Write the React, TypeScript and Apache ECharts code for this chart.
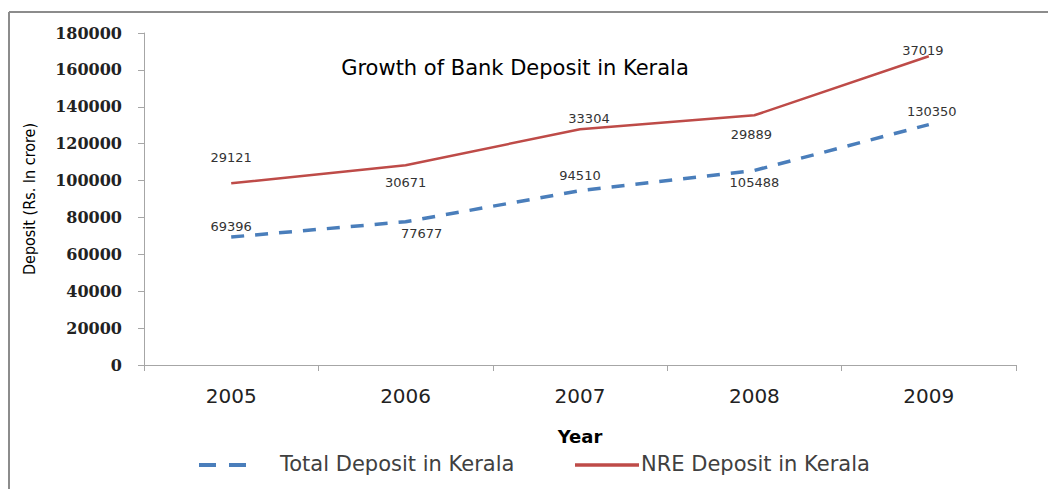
import React, { useEffect, useRef } from "react";
import * as echarts from "echarts";

const years = ["2005", "2006", "2007", "2008", "2009"];
const totalDeposit = [69396, 77677, 94510, 105488, 130350];
const nreDeposit = [29121, 30671, 33304, 29889, 37019];
const seriesNames = ["Total Deposit in Kerala", "NRE Deposit in Kerala"];

const yMin = 0;
const yMax = 180000;
const yStep = 20000;

// label placement (layout only)
const totalLabelPos = ["top", "bottom", "top", "bottom", "top"];
const totalLabelOffset = [[0, 2], [16, -1], [0, -3], [0, 0], [3, -1]];
const nreLabelPos = ["top", "bottom", "top", "bottom", "top"];
const nreLabelOffset = [[0, -13], [0, 5], [9, 2], [-3, 7], [-6, 7]];

const BLUE = "#4A7EBB";
const RED = "#BE4B48";

export default function App() {
  const ref = useRef<HTMLDivElement>(null);
  useEffect(() => {
    if (!ref.current) return;
    const chart = echarts.init(ref.current, null, { renderer: "svg" });
    const labelFont = { fontFamily: "DejaVu Sans", fontSize: 13, color: "#333" };
    const legendFont = { fontFamily: "DejaVu Sans", fontSize: 21, fill: "#404040" };
    const option = {
      animation: false,
      backgroundColor: "#fff",
      title: {
        text: "Growth of Bank Deposit in Kerala",
        left: 510,
        top: 52,
        textAlign: "center",
        textStyle: { fontFamily: "DejaVu Sans", fontSize: 21, fontWeight: "normal", color: "#000" },
      },
      grid: { left: 144, right: 32, top: 33, bottom: 124, containLabel: false },
      xAxis: {
        type: "category",
        data: years,
        boundaryGap: true,
        name: "Year",
        nameLocation: "middle",
        nameGap: 62,
        nameTextStyle: { fontFamily: "DejaVu Sans", fontSize: 18, fontWeight: "bold", color: "#000" },
        axisLine: { lineStyle: { color: "#A6A6A6", width: 1 } },
        axisTick: { show: true, length: 6, lineStyle: { color: "#A6A6A6" } },
        axisLabel: { margin: 21, fontFamily: "DejaVu Sans", fontSize: 20, color: "#222" },
        splitLine: { show: false },
      },
      yAxis: {
        type: "value",
        min: yMin,
        max: yMax,
        interval: yStep,
        name: "Deposit (Rs. In crore)",
        nameLocation: "middle",
        nameGap: 107,
        nameTextStyle: { fontFamily: "Liberation Sans Narrow, DejaVu Sans Condensed, sans-serif", fontSize: 16, color: "#000" },
        axisLine: { show: true, lineStyle: { color: "#A6A6A6", width: 1 } },
        axisTick: { show: true, length: 6, lineStyle: { color: "#A6A6A6" } },
        axisLabel: {
          margin: 22,
          fontFamily: "DejaVu Serif",
          fontWeight: "bold",
          fontSize: 16,
          color: "#222",
          formatter: (v: number) => String(v),
        },
        splitLine: { show: false },
      },
      series: [
        {
          name: seriesNames[0],
          type: "line",
          stack: "dep",
          symbol: "circle",
          symbolSize: 2,
          showSymbol: true,
          itemStyle: { color: "rgba(0,0,0,0)" },
          label: { show: true, ...labelFont },
          lineStyle: { color: BLUE, width: 3.5, type: [13, 11], cap: "butt" },
          data: totalDeposit.map((v, i) => ({
            value: v,
            label: { show: true, position: totalLabelPos[i], offset: totalLabelOffset[i], ...labelFont },
          })),
        },
        {
          name: seriesNames[1],
          type: "line",
          stack: "dep",
          symbol: "circle",
          symbolSize: 2,
          showSymbol: true,
          itemStyle: { color: "rgba(0,0,0,0)" },
          label: { show: true, ...labelFont },
          lineStyle: { color: RED, width: 2.5 },
          data: nreDeposit.map((v, i) => ({
            value: v,
            label: { show: true, position: nreLabelPos[i], offset: nreLabelOffset[i], ...labelFont },
          })),
        },
      ],
      graphic: [
        { type: "line", shape: { x1: 9, y1: 12, x2: 1048, y2: 12 }, style: { stroke: "#8C8C8C", lineWidth: 2 } },
        { type: "line", shape: { x1: 9, y1: 12, x2: 9, y2: 489 }, style: { stroke: "#8C8C8C", lineWidth: 2 } },
        { type: "line", shape: { x1: 199, y1: 465, x2: 216, y2: 465 }, style: { stroke: BLUE, lineWidth: 4 } },
        { type: "line", shape: { x1: 229, y1: 465, x2: 246, y2: 465 }, style: { stroke: BLUE, lineWidth: 4 } },
        {
          type: "text",
          left: 280,
          top: 453,
          style: { text: seriesNames[0], ...legendFont },
        },
        { type: "line", shape: { x1: 575, y1: 465, x2: 639, y2: 465 }, style: { stroke: RED, lineWidth: 3.5 } },
        {
          type: "text",
          left: 641,
          top: 453,
          style: { text: seriesNames[1], ...legendFont },
        },
      ],
    };
    chart.setOption(option as any);
    return () => chart.dispose();
  }, []);
  return (
    <div
      ref={ref}
      style={{ position: "absolute", left: 0, top: 0, width: 1048, height: 489 }}
    />
  );
}
